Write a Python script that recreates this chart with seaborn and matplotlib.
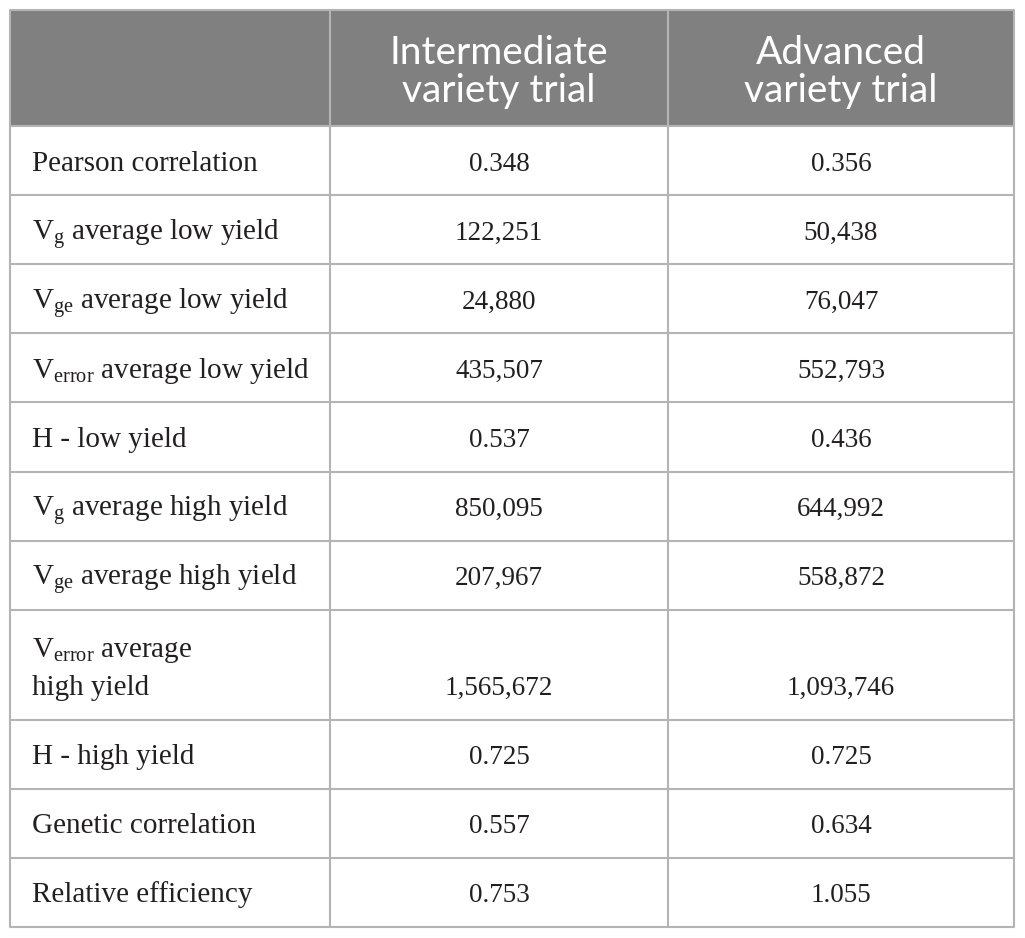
import matplotlib
matplotlib.use("Agg")
import matplotlib.pyplot as plt
from matplotlib.patches import Rectangle
import seaborn as sns

# ---- data ----
col_headers = [["Intermediate", "variety trial"], ["Advanced", "variety trial"]]
row_labels = [
    ["Pearson correlation"],
    [r"V$_{\mathrm{g}}$ average low yield"],
    [r"V$_{\mathrm{ge}}$ average low yield"],
    [r"V$_{\mathrm{error}}$ average low yield"],
    ["H - low yield"],
    [r"V$_{\mathrm{g}}$ average high yield"],
    [r"V$_{\mathrm{ge}}$ average high yield"],
    [r"V$_{\mathrm{error}}$ average", "high yield"],
    ["H - high yield"],
    ["Genetic correlation"],
    ["Relative efficiency"],
]
intermediate = ["0.348", "122,251", "24,880", "435,507", "0.537", "850,095",
                "207,967", "1,565,672", "0.725", "0.557", "0.753"]
advanced = ["0.356", "50,438", "76,047", "552,793", "0.436", "644,992",
            "558,872", "1,093,746", "0.725", "0.634", "1.055"]

# ---- layout ----
sns.set_theme(style="white")
plt.rcParams["mathtext.fontset"] = "custom"
plt.rcParams["mathtext.rm"] = "Liberation Serif"
plt.rcParams["mathtext.it"] = "Liberation Serif:italic"

W, H = 1025, 938
fig = plt.figure(figsize=(W / 100, H / 100), dpi=100)
ax = fig.add_axes([0, 0, 1, 1])
ax.set_xlim(0, W)
ax.set_ylim(H, 0)
ax.axis("off")

x_edges = [10, 330, 668, 1014]
top, header_bottom, bottom = 10, 126, 927
row_heights = [69.2] * 7 + [110] + [69.2] * 3
y_edges = [header_bottom]
for h in row_heights:
    y_edges.append(y_edges[-1] + h)
scale = (bottom - header_bottom) / (y_edges[-1] - header_bottom)
y_edges = [header_bottom + (y - header_bottom) * scale for y in y_edges]

grid = "#b4b4b4"
ax.add_patch(Rectangle((x_edges[0], top), x_edges[-1] - x_edges[0],
                       header_bottom - top, facecolor="#808080", edgecolor="none"))

lw = 1.5
for x in x_edges:
    ax.plot([x, x], [top, y_edges[-1]], color=grid, lw=lw, solid_capstyle="butt")
ax.plot([x_edges[0], x_edges[-1]], [top, top], color=grid, lw=lw)
for y in y_edges:
    ax.plot([x_edges[0], x_edges[-1]], [y, y], color=grid, lw=lw)

# header text
for i, lines in enumerate(col_headers):
    cx = (x_edges[i + 1] + x_edges[i + 2]) / 2
    for j, line in enumerate(lines):
        ax.text(cx, 64 + 38 * j, line, ha="center", va="baseline",
                color="white", fontsize=28, family="Lato")

txt = dict(fontsize=21, family="Liberation Serif", color="#231f20",
           va="baseline")
val = dict(txt, fontsize=19.5)
c1 = (x_edges[1] + x_edges[2]) / 2
c2 = (x_edges[2] + x_edges[3]) / 2
for r, (lab, a, b) in enumerate(zip(row_labels, intermediate, advanced)):
    y0, y1 = y_edges[r], y_edges[r + 1]
    cy = (y0 + y1) / 2
    if len(lab) == 2:
        base = [cy - 8, cy + 30]
    else:
        base = [cy + 10]
    for line, by in zip(lab, base):
        ax.text(32, by, line, ha="left", **txt)
    vy = base[-1]
    ax.text(c1, vy, a, ha="center", **val)
    ax.text(c2, vy, b, ha="center", **val)

fig.savefig("out.png", dpi=100, facecolor="white")
